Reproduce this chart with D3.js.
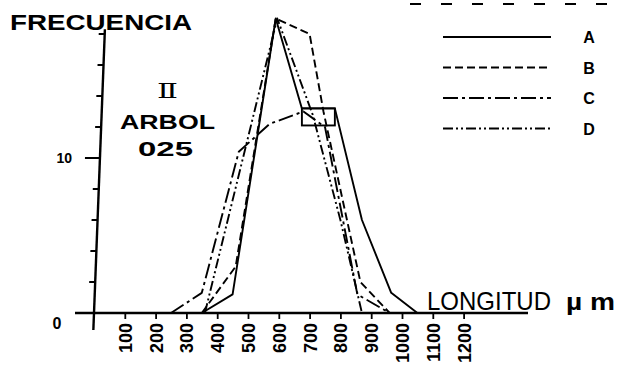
<!DOCTYPE html>
<html>
<head>
<meta charset="utf-8">
<script src="https://cdn.jsdelivr.net/npm/d3@7"></script>
<style>
  body { margin: 0; background: #fff; }
  svg { display: block; }
  text { font-family: "Liberation Sans", Arial, sans-serif; fill: #000; }
</style>
</head>
<body>
<div id="chart"></div>
<script>
// series: [longitud um, frecuencia]
var serieA = [[350, 0], [450, 1.2], [590, 19], [675, 13.2], [782, 13.2], [870, 6], [965, 1.3], [1050, 0]];
var serieB = [[350, 0], [460, 3], [590, 19], [700, 18], [745, 13], [865, 2], [960, 0]];
var serieC = [[250, 0], [350, 1.3], [470, 10.4], [570, 12.2], [680, 13], [750, 12], [855, 1.2], [960, 0]];
var serieD = [[360, 0], [595, 19], [710, 12.8], [800, 6], [870, 0]];
var boxMark = [675, 782, 12.1, 13.2];

var xTicks = [100, 200, 300, 400, 500, 600, 700, 800, 900, 1000, 1100, 1200];
var yTicks = [2, 4, 6, 8, 10, 12, 14, 16, 18];
var yLabels = [10];
var legendNames = ["A", "B", "C", "D"];

var W = 618, H = 369;
var svg = d3.select("#chart").append("svg")
  .attr("width", W)
  .attr("height", H);

var x = d3.scaleLinear().domain([0, 1200]).range([94, 463.6]);
var y = d3.scaleLinear().domain([0, 19]).range([313, 18.5]);

var dashes = {
  A: null,
  B: "8,4",
  C: "15,4,3,4",
  D: "10,3,2,3,2,3"
};

// x axis
svg.append("line")
  .attr("x1", 75).attr("x2", 528)
  .attr("y1", y(0)).attr("y2", y(0))
  .attr("stroke", "#000").attr("stroke-width", 2.6);

var xa = svg.append("g")
  .attr("transform", "translate(0," + y(0) + ")")
  .call(d3.axisBottom(x).tickValues(xTicks).tickSize(6).tickFormat(d3.format("d")));
xa.attr("font-size", 18).attr("font-family", "'Liberation Sans', Arial, sans-serif");
xa.select(".domain").remove();
xa.selectAll(".tick line").attr("stroke", "#000").attr("stroke-width", 1.8);
xa.selectAll(".tick text")
  .attr("transform", "rotate(-90)")
  .attr("text-anchor", "end")
  .attr("x", -10)
  .attr("y", 0)
  .attr("dy", "0.36em")
  .attr("font-weight", "bold");

// y axis (slightly slanted, like the hand-drawn original)
var ya = svg.append("g")
  .attr("transform", "translate(" + x(0) + "," + y(0) + ") skewX(-2.2) translate(0," + (-y(0)) + ")");
ya.append("line")
  .attr("x1", 0).attr("x2", 0)
  .attr("y1", y(-1.1)).attr("y2", y(18.3))
  .attr("stroke", "#000").attr("stroke-width", 2.4);
ya.selectAll("line.tk")
  .data(yTicks)
  .enter().append("line")
  .attr("class", "tk")
  .attr("x1", function(d) { return yLabels.indexOf(d) >= 0 ? -15 : -6; })
  .attr("x2", 0)
  .attr("y1", function(d) { return y(d); })
  .attr("y2", function(d) { return y(d); })
  .attr("stroke", "#000").attr("stroke-width", 1.8);

svg.selectAll("text.ylab")
  .data(yLabels)
  .enter().append("text")
  .attr("class", "ylab")
  .attr("x", 72)
  .attr("y", function(d) { return y(d) + 5; })
  .attr("text-anchor", "end")
  .style("font-size", "14px")
  .style("font-weight", "bold")
  .text(function(d) { return d; });

svg.append("text")
  .attr("x", 57).attr("y", y(0) + 16)
  .attr("text-anchor", "middle")
  .style("font-size", "16px")
  .style("font-weight", "bold")
  .text("0");

// series lines
var line = d3.line()
  .x(function(d) { return x(d[0]); })
  .y(function(d) { return y(d[1]); });

var series = [
  { name: "A", values: serieA },
  { name: "B", values: serieB },
  { name: "C", values: serieC },
  { name: "D", values: serieD }
];

svg.selectAll("path.serie")
  .data(series)
  .enter().append("path")
  .attr("class", "serie")
  .attr("d", function(d) { return line(d.values); })
  .attr("fill", "none")
  .attr("stroke", "#000")
  .attr("stroke-width", 1.9)
  .attr("stroke-linejoin", "round")
  .attr("stroke-dasharray", function(d) { return dashes[d.name]; });

svg.append("rect")
  .attr("x", x(boxMark[0]))
  .attr("y", y(boxMark[3]))
  .attr("width", x(boxMark[1]) - x(boxMark[0]))
  .attr("height", y(boxMark[2]) - y(boxMark[3]))
  .attr("fill", "none")
  .attr("stroke", "#000")
  .attr("stroke-width", 1.9);

// legend
svg.append("line")
  .attr("x1", 410).attr("x2", 618)
  .attr("y1", 4).attr("y2", 4)
  .attr("stroke", "#000").attr("stroke-width", 2)
  .attr("stroke-dasharray", "11,20");

var lg = svg.selectAll("g.lg")
  .data(legendNames)
  .enter().append("g")
  .attr("class", "lg")
  .attr("transform", function(d, i) { return "translate(0," + (37 + i * 30.5) + ")"; });
lg.append("line")
  .attr("x1", 443).attr("x2", 551)
  .attr("y1", 0).attr("y2", 0)
  .attr("stroke", "#000").attr("stroke-width", 1.9)
  .attr("stroke-dasharray", function(d) { return dashes[d]; });
lg.append("text")
  .attr("x", 589).attr("y", 6)
  .attr("text-anchor", "middle")
  .style("font-size", "16px")
  .style("font-weight", "bold")
  .text(function(d) { return d; });

// titles
svg.append("text")
  .attr("x", 10).attr("y", 30)
  .attr("textLength", 182)
  .attr("lengthAdjust", "spacingAndGlyphs")
  .style("font-size", "22px")
  .style("font-weight", "bold")
  .text("FRECUENCIA");

svg.append("text")
  .attr("x", 157).attr("y", 98)
  .attr("textLength", 21)
  .attr("lengthAdjust", "spacingAndGlyphs")
  .style("font-family", "'DejaVu Serif', serif")
  .style("font-size", "20px")
  .text("Ⅱ");

svg.append("text")
  .attr("x", 120).attr("y", 129)
  .attr("textLength", 95)
  .attr("lengthAdjust", "spacingAndGlyphs")
  .style("font-size", "21px")
  .style("font-weight", "bold")
  .text("ARBOL");

svg.append("text")
  .attr("x", 138).attr("y", 156)
  .attr("textLength", 55)
  .attr("lengthAdjust", "spacingAndGlyphs")
  .style("font-size", "21px")
  .style("font-weight", "bold")
  .text("025");

svg.append("text")
  .attr("x", 427).attr("y", 310)
  .attr("textLength", 124)
  .attr("lengthAdjust", "spacingAndGlyphs")
  .style("font-size", "26px")
  .text("LONGITUD");

svg.append("text")
  .attr("x", 566).attr("y", 310)
  .attr("textLength", 49)
  .attr("lengthAdjust", "spacingAndGlyphs")
  .style("font-size", "23px")
  .style("font-weight", "bold")
  .text("µ m");
</script>
</body>
</html>
